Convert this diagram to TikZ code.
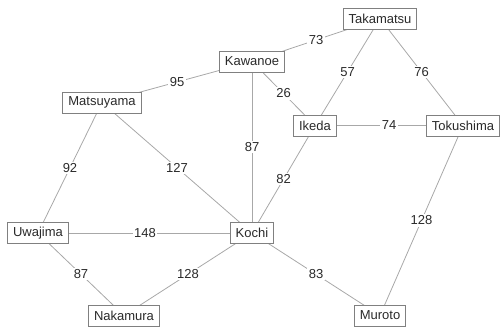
\documentclass[tikz,border=0pt]{standalone}
\usepackage{fontspec}
\setmainfont{Liberation Sans}
\definecolor{boxline}{HTML}{808080}
\definecolor{edgeline}{HTML}{A8A8A8}
\definecolor{txt}{HTML}{2A2A2A}
\pgfdeclarelayer{background}
\pgfsetlayers{background,main}
\begin{document}
\begin{tikzpicture}[x=1bp,y=-1bp,
  city/.style={draw=boxline,line width=0.9bp,fill=white,text=txt,
    font=\fontsize{13bp}{15bp}\selectfont,inner xsep=5.5bp,inner ysep=0pt,
    minimum height=21bp},
  road/.style={draw=edgeline,line width=0.8bp},
  dist/.style={fill=white,text=txt,inner sep=1.5bp,
    font=\fontsize{13bp}{15bp}\selectfont}]
\useasboundingbox (0,0) rectangle (501,327);
% cities
\node[city] (tak) at (380,18.5) {Takamatsu};
\node[city] (kaw) at (252,61.5) {Kawanoe};
\node[city] (mat) at (102,102.5) {Matsuyama};
\node[city] (ike) at (315,125.5) {Ikeda};
\node[city] (tok) at (463,125.5) {Tokushima};
\node[city] (uwa) at (38,233) {Uwajima};
\node[city] (koc) at (252,233) {Kochi};
\node[city] (nak) at (124,315.5) {Nakamura};
\node[city] (mur) at (380,315.5) {Muroto};
% roads with distances
\begin{pgfonlayer}{background}
\draw[road] (kaw.center) -- node[dist] {73} (tak.center);
\draw[road] (mat.center) -- node[dist] {95} (kaw.center);
\draw[road] (kaw.center) -- node[dist] {26} (ike.center);
\draw[road] (tak.center) -- node[dist] {57} (ike.center);
\draw[road] (tak.center) -- node[dist] {76} (tok.center);
\draw[road] (ike.center) -- node[dist] {74} (tok.center);
\draw[road] (kaw.center) -- node[dist] {87} (koc.center);
\draw[road] (mat.center) -- node[dist] {127} (koc.center);
\draw[road] (mat.center) -- node[dist] {92} (uwa.center);
\draw[road] (ike.center) -- node[dist] {82} (koc.center);
\draw[road] (uwa.center) -- node[dist] {148} (koc.center);
\draw[road] (uwa.center) -- node[dist] {87} (nak.center);
\draw[road] (nak.center) -- node[dist] {128} (koc.center);
\draw[road] (koc.center) -- node[dist] {83} (mur.center);
\draw[road] (tok.center) -- node[dist] {128} (mur.center);
\end{pgfonlayer}
\end{tikzpicture}
\end{document}
